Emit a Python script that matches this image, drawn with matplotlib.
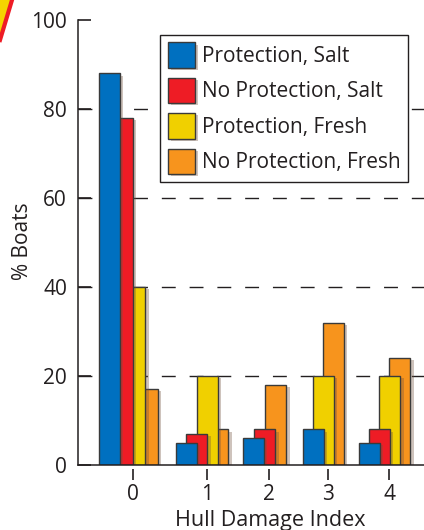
import numpy as np
import matplotlib
matplotlib.use('Agg')
import matplotlib.pyplot as plt
import matplotlib.patheffects as pe
from matplotlib.patches import Polygon

plt.rcParams['font.family'] = ['Open Sans', 'DejaVu Sans']

# data
damage_index = ['0', '1', '2', '3', '4']
series_names = ['Protection, Salt', 'No Protection, Salt',
                'Protection, Fresh', 'No Protection, Fresh']
prot_salt = [88, 5, 6, 8, 5]
noprot_salt = [78, 7, 8, 0, 8]
prot_fresh = [40, 20, 0, 20, 20]
noprot_fresh = [17, 8, 18, 32, 24]
values = [prot_salt, noprot_salt, prot_fresh, noprot_fresh]

colors = ['#0070c0', '#ee1c25', '#f0d000', '#f7941d']
ink = '#231f20'

# layout: the groups are not evenly spaced in the original
tick_pos = [0, 1.23, 2.27, 3.25, 4.27]
group_step = [0.21, 0.175, 0.185, 0.167, 0.17]
bar_w = 0.355
center_shift = -0.08

fig = plt.figure(figsize=(4.24, 5.30), dpi=100)
ax = fig.add_axes([0.184, 0.1226, 0.83, 0.8396])

shadow = [pe.SimplePatchShadow(offset=(2.5, -1.5), shadow_rgbFace=(0.45, 0.33, 0.25), alpha=0.35),
          pe.Normal()]

# pack the non-zero bars of each group, overlapping
xs = [[] for _ in values]
hs = [[] for _ in values]
for g in range(len(damage_index)):
    present = [s for s in range(len(values)) if values[s][g] > 0]
    c = tick_pos[g] + center_shift
    start = c - (len(present) - 1) * group_step[g] / 2
    for k, s in enumerate(present):
        xs[s].append(start + k * group_step[g])
        hs[s].append(values[s][g])

handles = []
for s in range(len(values)):
    b = ax.bar(xs[s], hs[s], width=bar_w, color=colors[s], edgecolor='#3a3a3a',
               linewidth=1.0, zorder=5 - s, label=series_names[s])
    for p in b:
        p.set_path_effects(shadow)
    handles.append(b)

ax.set_ylim(0, 100)
ax.set_xlim(-0.917, -0.917 + 5.865)
ax.set_yticks([0, 20, 40, 60, 80, 100])
ax.set_xticks(tick_pos)
ax.set_xticklabels(damage_index)

for y in [20, 40, 60, 80]:
    ax.axhline(y, color=ink, lw=1.0, ls=(0, (10, 10)), zorder=0.5)
ax.axhline(0, color=ink, lw=1.1, zorder=6, clip_on=False)

for side in ['top', 'right']:
    ax.spines[side].set_visible(False)
ax.spines['bottom'].set_position(('outward', 3))
ax.spines['bottom'].set_visible(False)
ax.spines['left'].set_color(ink)
ax.spines['left'].set_linewidth(1.1)

ax.tick_params(axis='y', direction='in', length=9.5, width=1.2, pad=8,
               labelsize=15, colors=ink)
ax.tick_params(axis='x', direction='out', length=8, width=1.2, pad=3,
               labelsize=15, colors=ink)

fig.text(22 / 424, 1 - 241 / 530, '% Boats', rotation=90, ha='center', va='center',
         fontsize=15, color=ink)
fig.text(270 / 424, 1 - 526 / 530, 'Hull Damage Index', ha='center', va='baseline',
         fontsize=15.5, color=ink)

leg = ax.legend(handles=handles, loc='upper left', bbox_to_anchor=(160 / 424, 1 - 35 / 530),
                bbox_transform=fig.transFigure, borderaxespad=0, fontsize=15,
                handlelength=1.3, handleheight=1.5, handletextpad=0.34,
                labelspacing=0.48, borderpad=0.36, fancybox=False, framealpha=1)
leg.get_frame().set_edgecolor(ink)
leg.get_frame().set_linewidth(1.0)
leg.set_zorder(10)
for t in leg.get_texts():
    t.set_color(ink)

# corner mark cut off in the original
fig.patches.append(Polygon([[0, 1], [11 / 424, 1], [0, 1 - 38 / 530]], closed=True,
                           transform=fig.transFigure, facecolor='#f5d400',
                           edgecolor='none', figure=fig))
fig.lines.append(plt.Line2D([12 / 424, 0], [1, 1 - 40 / 530], color='#ee1c25', lw=3,
                            transform=fig.transFigure, figure=fig))

plt.savefig('out.png', dpi=100)
